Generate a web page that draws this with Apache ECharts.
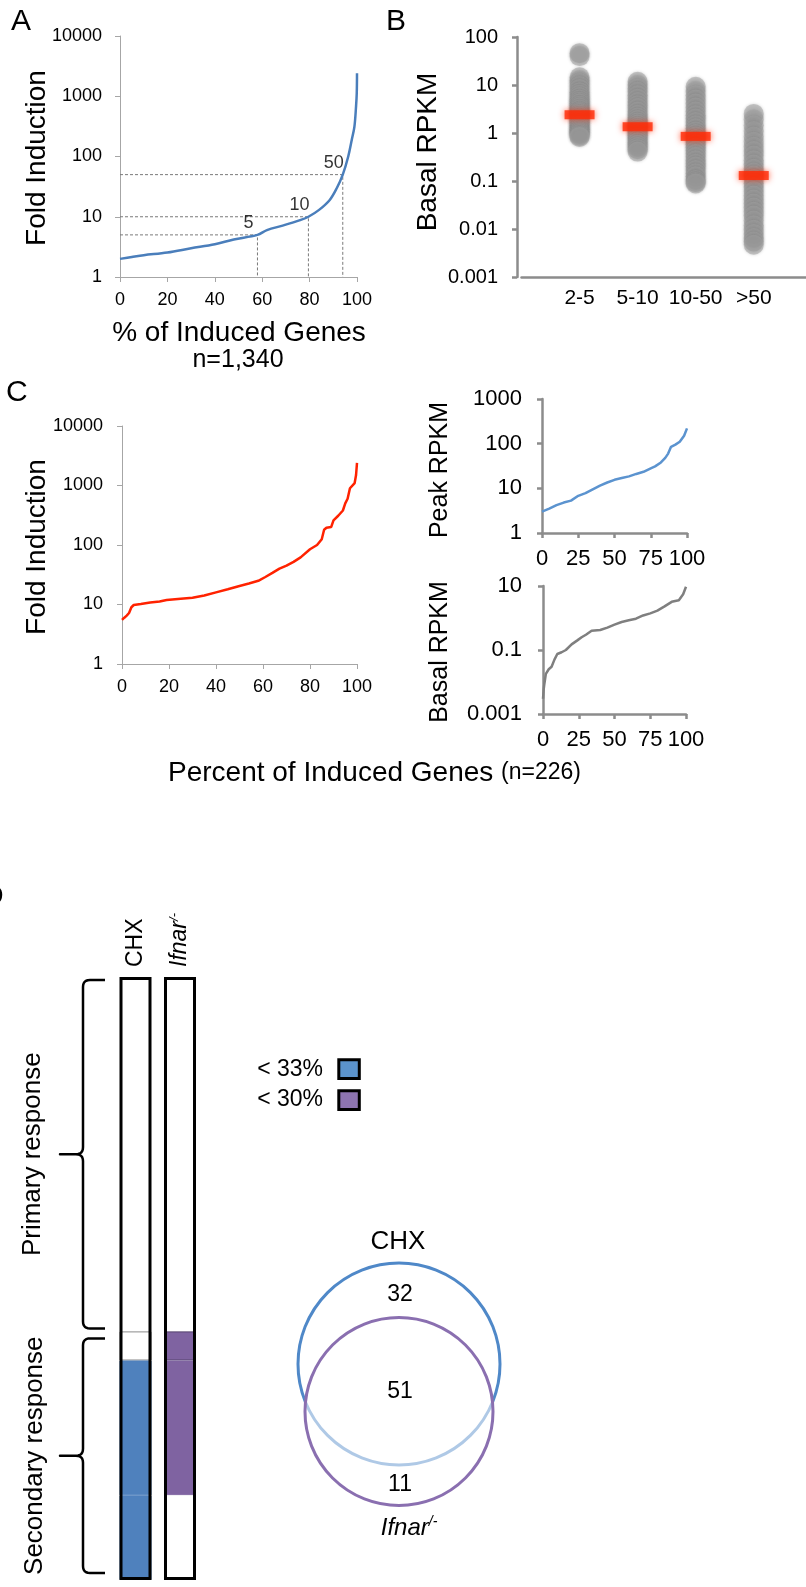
<!DOCTYPE html>
<html>
<head>
<meta charset="utf-8">
<script src="https://cdn.jsdelivr.net/npm/echarts@6/dist/echarts.min.js"></script>
<style>
  html, body { margin: 0; padding: 0; background: #fff; }
  #fig { width: 806px; height: 1587px; }
</style>
</head>
<body>
<div id="fig"></div>
<script>
// ---------- Panel A: fold induction of all induced genes (n = 1,340) ----------
const pctA  = [0, 5, 10, 20, 30, 40, 48, 58, 62, 69, 76, 79.5, 84, 88.5, 91.5, 94, 96.3, 97.8, 98.9, 99.6, 99.9, 100];
const foldA = [2.0, 2.15, 2.3, 2.55, 3.0, 3.5, 4.2, 5.0, 6.0, 7.2, 8.8, 10, 13, 19, 30, 50, 100, 190, 310, 680, 1130, 2400];
const cutoffFold = [5, 10, 50];
const cutoffPct  = [58, 79.5, 94];

// ---------- Panel B: basal RPKM by fold-induction bin ----------
const binLabels = ['2-5', '5-10', '10-50', '>50'];
const basal2to5 = [46, 40, 14.5, 12.5, 11, 9.5, 8.3, 7.1, 6.3, 5.6, 5, 4.5, 4.1, 3.7, 3.4, 3.1, 2.8, 2.6, 2.4, 2.2, 2.0, 1.85, 1.7, 1.55, 1.42, 1.3, 1.2, 1.1, 1.02, 0.95, 0.88, 0.83];
const basal5to10 = [11.7, 10, 8.5, 7.2, 6.1, 5.2, 4.4, 3.8, 3.3, 2.8, 2.4, 2.1, 1.87, 1.65, 1.5, 1.35, 1.22, 1.1, 1.0, 0.9, 0.8, 0.72, 0.64, 0.57, 0.51, 0.46, 0.41];
const basal10to50 = [9.2, 7.5, 6.1, 5, 4.1, 3.4, 2.8, 2.35, 2.0, 1.7, 1.45, 1.25, 1.08, 0.95, 0.85, 0.75, 0.66, 0.58, 0.5, 0.43, 0.37, 0.32, 0.27, 0.23, 0.2, 0.17, 0.145, 0.125, 0.105, 0.095, 0.089];
const basalOver50 = [2.5, 1.9, 1.45, 1.1, 0.85, 0.66, 0.52, 0.42, 0.34, 0.27, 0.22, 0.18, 0.15, 0.13, 0.11, 0.09, 0.075, 0.062, 0.05, 0.041, 0.034, 0.028, 0.023, 0.019, 0.015, 0.012, 0.0097, 0.0079, 0.0065, 0.0055, 0.0047];
const basalMedian = [2.4, 1.35, 0.85, 0.13];

// ---------- Panel C: secondary-response genes (n = 226) ----------
const pctC  = [0, 1, 2, 3, 4, 5, 8, 12, 16, 19, 25, 30, 35, 40, 45, 50, 54, 58, 61, 64, 67, 70, 73, 76, 80, 83, 85, 86, 87, 89, 90, 92, 94, 95, 96, 97, 99, 99.6, 100];
const foldC = [5.5, 6, 6.5, 7.2, 9, 9.8, 10.2, 10.8, 11.2, 11.9, 12.5, 13, 14.2, 16, 18, 20.5, 22.5, 25, 29, 34, 40, 45, 52, 62, 85, 100, 125, 180, 195, 200, 260, 310, 380, 500, 600, 900, 1100, 1500, 2400];
const pctPeak  = [0, 5, 10, 15, 20, 25, 30, 35, 40, 45, 50, 55, 60, 65, 70, 75, 78, 82, 85, 87, 89, 92, 95, 98, 100];
const peakRPKM = [3, 3.5, 4.2, 4.8, 5.3, 6.8, 7.8, 9.5, 11.5, 13.5, 15.5, 17, 18.5, 21, 23.5, 28, 31, 38, 48, 60, 85, 95, 110, 150, 220];
const pctBasal  = [0, 0.5, 1, 2, 4, 6, 8, 10, 13, 16, 20, 24, 27, 30, 34, 40, 45, 50, 55, 60, 65, 70, 75, 80, 85, 90, 95, 98, 100];
const basalRPKM = [0.003, 0.006, 0.009, 0.018, 0.025, 0.03, 0.05, 0.075, 0.085, 0.1, 0.15, 0.2, 0.25, 0.3, 0.4, 0.42, 0.5, 0.62, 0.75, 0.85, 0.95, 1.2, 1.4, 1.7, 2.3, 3.2, 3.6, 5.5, 9.5];

// ---------- Panel D: primary / secondary classification ----------
const strainNames = ['CHX', 'Ifnar'];
const primaryGenes = 134;
const vennCounts = [32, 51, 11];            // CHX only, both, Ifnar only
const legendLabels = ['< 33%', '< 30%'];

const FONT = "'Liberation Sans', Arial, Helvetica, sans-serif";
const BLUE_BAR = '#4f81bd', PURPLE_BAR = '#7f63a1';
const BLUE_KEY = '#5b93cc', PURPLE_KEY = '#8d74b0';

const logLabel = v => (v >= 1 ? String(Math.round(v)) : String(parseFloat(Number(v).toPrecision(1))));
const thinLine  = { show: true, onZero: false, lineStyle: { color: '#a6a6a6', width: 1 } };
const thickLine = { show: true, onZero: false, lineStyle: { color: '#8c8c8c', width: 2.5 } };
const thinTick  = { show: true, length: 5, lineStyle: { color: '#a6a6a6', width: 1 } };
const thickTick = { show: true, length: 5, lineStyle: { color: '#8c8c8c', width: 2.5 } };
const lbl = (size, margin, extra) => Object.assign({ color: '#000', fontSize: size, fontFamily: FONT, margin: margin }, extra || {});
const noSplit = { show: false };

const zip = (xs, ys) => xs.map((x, i) => [x, ys[i]]);

// dashed guides from the y axis to the curve and down to the x axis
const guideSeries = cutoffFold.map((f, i) => ({
  type: 'line', xAxisIndex: 0, yAxisIndex: 0, z: 1, silent: true,
  symbol: 'none', animation: false,
  lineStyle: { color: '#7a7a7a', width: 1, type: [3, 2] },
  data: [[0, f], [cutoffPct[i], f], [cutoffPct[i], 1]]
}));
const guideLabels = {
  type: 'scatter', xAxisIndex: 0, yAxisIndex: 0, z: 4, silent: true,
  symbolSize: 1, itemStyle: { color: 'transparent' },
  label: { show: true, position: 'top', offset: [-9, 3], color: '#000', fontSize: 18, fontFamily: FONT,
           formatter: p => String(p.value[1]) },
  data: cutoffFold.map((f, i) => [cutoffPct[i], f])
};

const bins = [basal2to5, basal5to10, basal10to50, basalOver50];
const dotData = [];
bins.forEach((arr, i) => arr.forEach(v => dotData.push([i + 1, v])));

const vennOnlyChx = vennCounts[0], vennBoth = vennCounts[1], vennOnlyIfnar = vennCounts[2];
const totalGenes = primaryGenes + vennOnlyChx + vennBoth + vennOnlyIfnar;

const chart = echarts.init(document.getElementById('fig'), null, { renderer: 'canvas' });

const seg = (color, border) => ({ color: color, borderColor: border || color, borderWidth: 1 });

const option = {
  animation: false,
  backgroundColor: '#fff',
  textStyle: { fontFamily: FONT },
  grid: [
    { left: 120,   top: 36,  width: 237,   height: 241 },
    { left: 521.5, top: 37,  width: 284.5, height: 240 },
    { left: 122,   top: 426, width: 235,   height: 238 },
    { left: 542,   top: 399, width: 145,   height: 134 },
    { left: 543,   top: 586, width: 143,   height: 128 },
    { left: 113.25, top: 977, width: 89,   height: 603 }
  ].map(g => Object.assign({ containLabel: false, outerBoundsMode: 'none' }, g)),
  xAxis: [
    { gridIndex: 0, type: 'value', min: 0, max: 100, interval: 20, axisLine: thinLine, axisTick: thinTick,
      axisLabel: lbl(18, 14), splitLine: noSplit },
    { gridIndex: 1, type: 'value', min: 0, max: 4.9, interval: 1, axisLine: thickLine, axisTick: { show: false },
      axisLabel: lbl(21, 11, { formatter: v => (Number.isInteger(v) && v >= 1 && v <= binLabels.length ? binLabels[v - 1] : '') }),
      splitLine: noSplit },
    { gridIndex: 2, type: 'value', min: 0, max: 100, interval: 20, axisLine: thinLine, axisTick: thinTick,
      axisLabel: lbl(18, 14), splitLine: noSplit },
    { gridIndex: 3, type: 'value', min: 0, max: 100, interval: 25, axisLine: thickLine, axisTick: thickTick,
      axisLabel: lbl(22, 15), splitLine: noSplit },
    { gridIndex: 4, type: 'value', min: 0, max: 100, interval: 25, axisLine: thickLine, axisTick: thickTick,
      axisLabel: lbl(22, 15), splitLine: noSplit },
    { gridIndex: 5, type: 'category', position: 'top', data: strainNames,
      axisLine: { show: false }, axisTick: { show: false }, splitLine: noSplit,
      axisLabel: { rotate: 90, margin: 10, color: '#000', fontFamily: FONT, fontSize: 23,
        formatter: v => (v === 'Ifnar' ? '{it|Ifnar}{sup|/-}' : '{n|' + v + '}'),
        rich: {
          n:   { fontSize: 23, fontFamily: FONT, color: '#000' },
          it:  { fontSize: 23, fontFamily: FONT, fontStyle: 'italic', color: '#000' },
          sup: { fontSize: 13, fontFamily: FONT, fontStyle: 'italic', color: '#000', verticalAlign: 'top', padding: [0, 0, 12, 0] }
        } } }
  ],
  yAxis: [
    { gridIndex: 0, type: 'log', logBase: 10, min: 1, max: 10000, axisLine: thinLine, axisTick: thinTick,
      axisLabel: lbl(18, 18, { formatter: logLabel }), splitLine: noSplit, minorTick: { show: false } },
    { gridIndex: 1, type: 'log', logBase: 10, min: 0.001, max: 100, offset: 4.5, axisLine: thickLine, axisTick: thickTick,
      axisLabel: lbl(20, 19, { formatter: logLabel }), splitLine: noSplit },
    { gridIndex: 2, type: 'log', logBase: 10, min: 1, max: 10000, axisLine: thinLine, axisTick: thinTick,
      axisLabel: lbl(18, 19, { formatter: logLabel }), splitLine: noSplit },
    { gridIndex: 3, type: 'log', logBase: 10, min: 1, max: 1000, axisLine: thickLine, axisTick: thickTick,
      axisLabel: lbl(22, 20, { formatter: logLabel }), splitLine: noSplit },
    { gridIndex: 4, type: 'log', logBase: 10, min: 0.001, max: 10, interval: 2, axisLine: thickLine, axisTick: thickTick,
      axisLabel: lbl(22, 21, { formatter: logLabel }), splitLine: noSplit },
    { gridIndex: 5, type: 'value', inverse: true, min: 0, max: totalGenes, show: false }
  ],
  series: [
    ...guideSeries,
    guideLabels,
    { type: 'line', xAxisIndex: 0, yAxisIndex: 0, z: 3, showSymbol: false, smooth: 0.35,
      lineStyle: { color: '#4a7ebb', width: 2.5 }, data: zip(pctA, foldA) },

    { type: 'scatter', xAxisIndex: 1, yAxisIndex: 1, z: 2, symbol: 'circle', symbolSize: 20,
      itemStyle: { color: '#a2a2a2', opacity: 0.55, shadowBlur: 3, shadowColor: 'rgba(90,90,90,0.5)' },
      data: dotData },
    { type: 'scatter', xAxisIndex: 1, yAxisIndex: 1, z: 3, symbol: 'rect', symbolSize: [30, 9],
      itemStyle: { color: '#ff2b06', shadowBlur: 6, shadowColor: 'rgba(255,40,0,0.9)' },
      data: basalMedian.map((m, i) => [i + 1, m]) },

    { type: 'line', xAxisIndex: 2, yAxisIndex: 2, showSymbol: false,
      lineStyle: { color: '#ff2200', width: 2.5 }, data: zip(pctC, foldC) },
    { type: 'line', xAxisIndex: 3, yAxisIndex: 3, showSymbol: false,
      lineStyle: { color: '#5b93cf', width: 2.5 }, data: zip(pctPeak, peakRPKM) },
    { type: 'line', xAxisIndex: 4, yAxisIndex: 4, showSymbol: false,
      lineStyle: { color: '#7f7f7f', width: 2.5 }, data: zip(pctBasal, basalRPKM) },

    { type: 'bar', name: 'Primary response', xAxisIndex: 5, yAxisIndex: 5, stack: 'genes', barWidth: 32,
      itemStyle: seg('#fff'), data: [primaryGenes, primaryGenes] },
    { type: 'bar', name: 'Ifnar only', xAxisIndex: 5, yAxisIndex: 5, stack: 'genes', barWidth: 32,
      data: [
        { value: vennOnlyIfnar, itemStyle: seg('#fff', '#8a8a8a') },
        { value: vennOnlyIfnar, itemStyle: seg(PURPLE_BAR, '#56446f') }
      ] },
    { type: 'bar', name: 'CHX and Ifnar', xAxisIndex: 5, yAxisIndex: 5, stack: 'genes', barWidth: 32,
      data: [
        { value: vennBoth, itemStyle: seg(BLUE_BAR) },
        { value: vennBoth, itemStyle: seg(PURPLE_BAR) }
      ] },
    { type: 'bar', name: 'CHX only', xAxisIndex: 5, yAxisIndex: 5, stack: 'genes', barWidth: 32,
      data: [
        { value: vennOnlyChx, itemStyle: seg(BLUE_BAR) },
        { value: vennOnlyChx, itemStyle: seg('#fff') }
      ] },
    { type: 'bar', name: 'outline', xAxisIndex: 5, yAxisIndex: 5, barWidth: 32, barGap: '-100%', z: 5,
      itemStyle: { color: 'rgba(0,0,0,0)', borderColor: '#000', borderWidth: 3 },
      data: [totalGenes, totalGenes] }
  ]
};
chart.setOption(option);

// ---------- annotation layer ----------
const txt = (text, x, y, size, extra) => {
  const e = Object.assign({ rotate: 0, align: 'center', italic: false, rich: null, z: 100 }, extra || {});
  const style = {
    text: text, fontSize: size, fontFamily: FONT, fill: '#000',
    fontStyle: e.italic ? 'italic' : 'normal',
    align: e.align, verticalAlign: 'middle', textAlign: e.align, textVerticalAlign: 'middle'
  };
  if (e.rich) style.rich = e.rich;
  return { type: 'text', x: x, y: y, rotation: e.rotate, z: e.z, silent: true, style: style };
};
const UP = Math.PI / 2;

// braces beside the bars, spanning the primary and secondary blocks
const yPix = v => chart.convertToPixel({ gridIndex: 5 }, [0, v])[1];
const xSpine = 83, xTip = 60, xEnd = 105, R = 7;
function quad(p0, p1, p2) {
  const pts = [];
  for (let k = 1; k <= 6; k++) {
    const t = k / 6, u = 1 - t;
    pts.push([u * u * p0[0] + 2 * u * t * p1[0] + t * t * p2[0], u * u * p0[1] + 2 * u * t * p1[1] + t * t * p2[1]]);
  }
  return pts;
}
function brace(y0, y1) {
  const m = (y0 + y1) / 2;
  const pts = [[xEnd, y0], [xSpine + R, y0]]
    .concat(quad([xSpine + R, y0], [xSpine, y0], [xSpine, y0 + R]))
    .concat([[xSpine, m - R]])
    .concat(quad([xSpine, m - R], [xSpine, m], [xSpine - R, m]))
    .concat([[xTip, m], [xSpine - R, m]])
    .concat(quad([xSpine - R, m], [xSpine, m], [xSpine, m + R]))
    .concat([[xSpine, y1 - R]])
    .concat(quad([xSpine, y1 - R], [xSpine, y1], [xSpine + R, y1]))
    .concat([[xEnd, y1]]);
  return { type: 'polyline', z: 100, silent: true, shape: { points: pts },
           style: { fill: null, stroke: '#000', lineWidth: 2.5, lineJoin: 'round' } };
}
const pTop = yPix(0) + 3, pBot = yPix(primaryGenes) - 3;
const sTop = yPix(primaryGenes) + 7, sBot = yPix(totalGenes) - 7;

const supRich = {
  it:  { fontSize: 24, fontFamily: FONT, fontStyle: 'italic', fill: '#000' },
  sup: { fontSize: 14, fontFamily: FONT, fontStyle: 'italic', fill: '#000', verticalAlign: 'top', padding: [0, 0, 12, 0] }
};

const graphic = [
  txt('A', 11, 22, 30, { align: 'left' }),
  txt('B', 386, 22, 30, { align: 'left' }),
  txt('C', 6, 393, 30, { align: 'left' }),
  txt('D', -18, 897, 30, { align: 'left' }),

  txt('Fold Induction', 37, 158, 28, { rotate: UP }),
  txt('% of Induced Genes', 239, 333, 28),
  txt('n=1,340', 238, 360, 25),
  txt('Basal RPKM', 428, 152, 28, { rotate: UP }),

  txt('Fold Induction', 37, 547, 28, { rotate: UP }),
  txt('Peak RPKM', 440, 470, 25, { rotate: UP }),
  txt('Basal RPKM', 440, 652, 25, { rotate: UP }),
  txt('{a|Percent of Induced Genes} {b|(n=226)}', 168, 773, 28, { align: 'left', rich: {
    a: { fontSize: 28, fontFamily: FONT, fill: '#000' },
    b: { fontSize: 23, fontFamily: FONT, fill: '#000' } } }),

  brace(pTop, pBot),
  brace(sTop, sBot),
  txt('Primary response', 33, (pTop + pBot) / 2, 26, { rotate: UP }),
  txt('Secondary response', 35, (sTop + sBot) / 2, 26, { rotate: UP }),

  txt(legendLabels[0], 323, 1070, 23, { align: 'right' }),
  txt(legendLabels[1], 323, 1100, 23, { align: 'right' }),
  { type: 'rect', z: 100, shape: { x: 338.8, y: 1059.8, width: 20.5, height: 18.7 },
    style: { fill: BLUE_KEY, stroke: '#000', lineWidth: 3 } },
  { type: 'rect', z: 100, shape: { x: 338.8, y: 1090.8, width: 20.5, height: 18.7 },
    style: { fill: PURPLE_KEY, stroke: '#000', lineWidth: 3 } },

  // Venn diagram of the two secondary-response criteria
  { type: 'circle', z: 100, shape: { cx: 399, cy: 1364, r: 101 },
    style: { fill: null, stroke: '#4f88c8', lineWidth: 3 } },
  { type: 'circle', z: 101, shape: { cx: 399, cy: 1411.5, r: 94 },
    style: { fill: 'rgba(255,255,255,0.55)', stroke: '#8a6fb0', lineWidth: 3 } },
  txt('CHX', 398, 1242, 26),
  txt(String(vennOnlyChx), 400, 1295, 23, { z: 110 }),
  txt(String(vennBoth), 400, 1392, 23, { z: 110 }),
  txt(String(vennOnlyIfnar), 400, 1485, 23, { z: 110 }),
  txt('{it|Ifnar}{sup|/-}', 409, 1528, 24, { rich: supRich })
];
chart.setOption({ graphic: graphic });
</script>
</body>
</html>
